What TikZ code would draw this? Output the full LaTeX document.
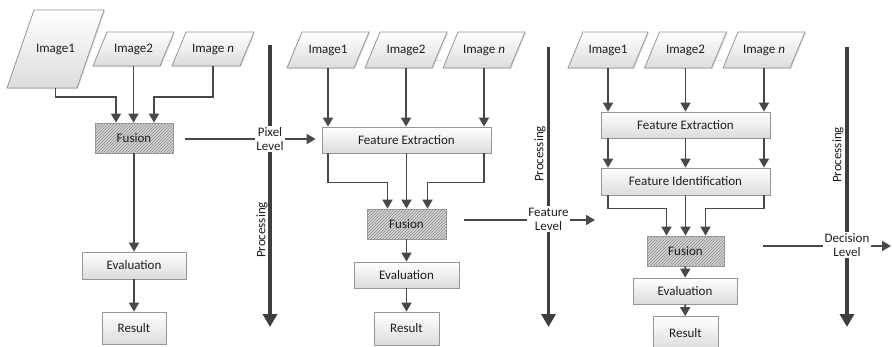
\documentclass[tikz,border=0pt]{standalone}
\usepackage{fontspec}
\setmainfont{Carlito}
\usetikzlibrary{arrows.meta,patterns,shadows,calc}
\definecolor{conncol}{RGB}{72,72,72}
\definecolor{proccol}{RGB}{62,62,62}
\definecolor{boxborder}{RGB}{150,150,150}
\definecolor{boxbottom}{RGB}{220,220,220}
\definecolor{fusfill}{RGB}{212,212,212}
\definecolor{hatchcol}{RGB}{140,140,140}
\definecolor{txtcol}{RGB}{30,30,30}
% parallelogram image box: name, x, y, mean width, height, half slant, text
\newcommand\imgnode[7]{%
  \draw[imgshape] (#2-#4/2-#6,#3+#5/2) -- (#2+#4/2-#6,#3+#5/2) -- (#2+#4/2+#6,#3-#5/2) -- (#2-#4/2+#6,#3-#5/2) -- cycle;
  \node[imgtext, minimum width=#4pt, minimum height=#5pt] (#1) at (#2,#3) {#7};
}
\begin{document}
\begin{tikzpicture}[x=1pt,y=-1pt,
  font=\fontsize{13}{14}\selectfont, text=txtcol,
  boxbase/.style={draw=boxborder, line width=0.8pt, drop shadow={opacity=0.25, shadow xshift=1pt, shadow yshift=-1.2pt}},
  procbox/.style={boxbase, rectangle, top color=white, bottom color=boxbottom, inner sep=0pt},
  imgshape/.style={boxbase, top color=white, bottom color=boxbottom},
  imgtext/.style={rectangle, inner sep=0pt},
  fusbox/.style={boxbase, rectangle, preaction={fill=fusfill}, pattern=north east lines, pattern color=hatchcol, inner sep=0pt, minimum width=78pt, minimum height=30pt},
  conn/.style={draw=conncol, line width=1.8pt},
  arr/.style={conn, -{Triangle[length=9pt,width=10pt]}},
  procline/.style={draw=proccol, line width=3.6pt},
  procarr/.style={procline, -{Triangle[length=13pt,width=14pt]}},
  lvl/.style={align=center, inner sep=1.5pt},
  proctext/.style={rotate=90, inner sep=0pt},
  dotsnode/.style={text=gray, font=\fontsize{6}{6}\selectfont, inner sep=0pt}
]
\useasboundingbox (0,0) rectangle (892,346);

% ---------- Panel 1: pixel level ----------
\imgnode{p1i1}{55.5}{49}{70}{78}{13.5}{Image1}
\imgnode{p1i2}{133.5}{49}{67}{34}{7}{Image2}
\imgnode{p1in}{213}{49}{68}{34}{7}{Image \textit{n}}
\node[dotsnode] (p1d) at ($(p1i2)!0.5!(p1in)+(-6,12)$) {...};
\node[fusbox] (fus1) at (134,138) {Fusion};
\node[procbox, minimum width=104pt, minimum height=27pt] (ev1) at (134,265.5) {Evaluation};
\node[procbox, minimum width=64pt, minimum height=32pt] (res1) at (134,328) {Result};

\draw[arr] (p1i1.south) -- ++(0,9) -| ($(fus1.north)+(-18,0)$);
\draw[arr] (p1i2.south) -- (p1i2.south |- fus1.north);
\draw[arr] (p1in.south) -- ++(0,31) -| ($(fus1.north)+(20,0)$);
\draw[arr] (fus1) -- (ev1);
\draw[arr] (ev1) -- (res1);

% ---------- Panel 2: feature level ----------
\imgnode{p2i1}{328}{50}{67}{36}{7.5}{Image1}
\imgnode{p2i2}{406}{50}{67}{36}{7.5}{Image2}
\imgnode{p2in}{484}{50}{67}{36}{7.5}{Image \textit{n}}
\node[dotsnode] (p2d) at ($(p2i2)!0.5!(p2in)+(-6,11)$) {...};
\node[procbox, minimum width=169pt, minimum height=26pt] (fe2) at (406.5,140) {Feature Extraction};
\node[fusbox, minimum width=79pt] (fus2) at (406.5,224) {Fusion};
\node[procbox, minimum width=105pt, minimum height=26pt] (ev2) at (406.5,275) {Evaluation};
\node[procbox, minimum width=65pt, minimum height=33pt] (res2) at (406.5,328.5) {Result};

\draw[arr] (p2i1.south) -- (p2i1.south |- fe2.north);
\draw[arr] (p2i2.south) -- (p2i2.south |- fe2.north);
\draw[arr] (p2in.south) -- (p2in.south |- fe2.north);
\draw[arr] (fe2.south -| p2i1) -- ++(0,29) -| ($(fus2.north)+(-19,0)$);
\draw[arr] (fe2.south) -- (fus2.north);
\draw[arr] (fe2.south -| p2in) -- ++(0,29) -| ($(fus2.north)+(21,0)$);
\draw[arr] (fus2) -- (ev2);
\draw[arr] (ev2) -- (res2);

% ---------- Panel 3: decision level ----------
\imgnode{p3i1}{608}{50}{65}{36}{7.5}{Image1}
\imgnode{p3i2}{685.5}{50}{67}{36}{7.5}{Image2}
\imgnode{p3in}{764}{50}{67}{36}{7.5}{Image \textit{n}}
\node[dotsnode] (p3d) at ($(p3i2)!0.5!(p3in)+(-6,11)$) {...};
\node[procbox, minimum width=169pt, minimum height=26pt] (fe3) at (685.5,125) {Feature Extraction};
\node[procbox, minimum width=169pt, minimum height=27pt] (fi3) at (685.5,181.5) {Feature Identification};
\node[fusbox, minimum width=77pt] (fus3) at (685.5,251) {Fusion};
\node[procbox, minimum width=104pt, minimum height=26pt] (ev3) at (685,291) {Evaluation};
\node[procbox, minimum width=65pt, minimum height=33pt] (res3) at (685.5,333) {Result};

\draw[arr] (p3i1.south) -- (p3i1.south |- fe3.north);
\draw[arr] (p3i2.south) -- (p3i2.south |- fe3.north);
\draw[arr] (p3in.south) -- (p3in.south |- fe3.north);
\draw[arr] (fe3.south -| p3i1) -- (fi3.north -| p3i1);
\draw[arr] (fe3.south -| p3i2) -- (fi3.north -| p3i2);
\draw[arr] (fe3.south -| p3in) -- (fi3.north -| p3in);
\draw[arr] (fi3.south -| p3i1) -- ++(0,13) -| ($(fus3.north)+(-19,0)$);
\draw[arr] (fi3.south) -- (fus3.north);
\draw[arr] (fi3.south -| p3in) -- ++(0,13) -| ($(fus3.north)+(20,0)$);
\draw[arr] (fus3) -- (ev3);
\draw[arr] (ev3) -- (res3);

% ---------- Level labels and processing arrows ----------
\node[lvl] (lab1) at (270,139) {Pixel\\Level};
\node[lvl] (lab2) at (548.5,219) {Feature\\Level};
\node[lvl] (lab3) at (847,245) {Decision\\Level};

\coordinate (pt1) at (270,45);   \coordinate (pb1) at (270,327);
\coordinate (pt2) at (548.5,47); \coordinate (pb2) at (548.5,327);
\coordinate (pt3) at (847,47);   \coordinate (pb3) at (847,327);

\draw[procline] (pt1) -- (lab1);
\draw[procarr] (lab1) -- (pb1);
\draw[procline] (pt2) -- (lab2);
\draw[procarr] (lab2) -- (pb2);
\draw[procline] (pt3) -- (lab3);
\draw[procarr] (lab3) -- (pb3);

\node[proctext] (pr1) at (262,230) {Processing};
\node[proctext] (pr2) at (540,154) {Processing};
\node[proctext] (pr3) at (838,155) {Processing};

\coordinate (hs1) at (185,139);
\draw[conn] (hs1) -- (lab1);
\draw[arr, shorten >=6pt] (lab1) -- (lab1 -| fe2.west);

\coordinate (hs2) at (464,220); \coordinate (he2) at (595,220);
\draw[conn] (hs2) -- (hs2 -| lab2.west);
\draw[arr] (hs2 -| lab2.east) -- (he2);

\coordinate (hs3) at (763,246); \coordinate (he3) at (891,246);
\draw[conn] (hs3) -- (hs3 -| lab3.west);
\draw[arr] (hs3 -| lab3.east) -- (he3);
\end{tikzpicture}
\end{document}
